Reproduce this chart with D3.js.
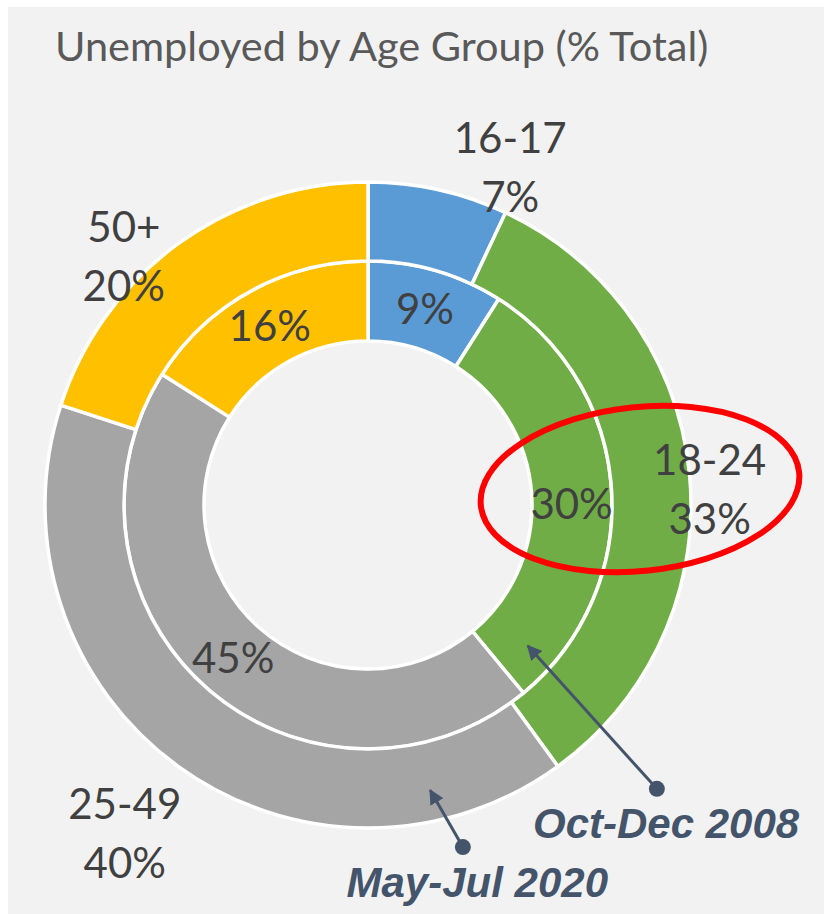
<!DOCTYPE html>
<html>
<head>
<meta charset="utf-8">
<script src="https://cdn.jsdelivr.net/npm/d3@7"></script>
<style>
  body { margin: 0; background: #fff; }
  svg { display: block; }
</style>
</head>
<body>
<svg id="chart"></svg>
<script>
// data
const ageGroups = ['16-17', '18-24', '25-49', '50+'];
const mayJul2020 = [7, 33, 40, 20];   // outer ring
const octDec2008 = [9, 30, 45, 16];   // inner ring
const colors = ['#5B9BD5', '#70AD47', '#A5A5A5', '#FFC000'];
const title = 'Unemployed by Age Group (% Total)';

const width = 824;
const height = 914;
const cx = 368;
const cy = 505;
const holeR = 164;
const midR = 244;
const outerR = 323;
const rad = Math.PI / 180;

// outer label placement: [angle deg, radius]
const outerLabelPolar = [[22.8, 367], [87.3, 342], [216.6, 408], [315.6, 349]];
// small vertical nudges for the inner labels
const innerLabelNudge = [0, 12, 0, 0];

const polar = (deg, r) => [cx + r * Math.sin(deg * rad), cy - r * Math.cos(deg * rad)];

const svg = d3.select('#chart')
  .attr('width', width)
  .attr('height', height);

svg.append('rect')
  .attr('x', 8)
  .attr('y', 7)
  .attr('width', width - 8)
  .attr('height', height - 7)
  .attr('fill', '#F2F2F2');

svg.append('text')
  .attr('x', 55)
  .attr('y', 61)
  .attr('font-family', 'Lato, sans-serif')
  .attr('font-size', 41.5)
  .attr('fill', '#595959')
  .text(title);

const pie = d3.pie().sort(null).value(d => d);
const g = svg.append('g').attr('transform', `translate(${cx}, ${cy})`);

const rings = [
  { values: octDec2008, inner: holeR, outer: midR },
  { values: mayJul2020, inner: midR, outer: outerR }
];

rings.forEach(ring => {
  const arc = d3.arc().innerRadius(ring.inner).outerRadius(ring.outer);
  g.append('g')
    .selectAll('path')
    .data(pie(ring.values))
    .enter()
    .append('path')
    .attr('d', arc)
    .attr('fill', (d, i) => colors[i])
    .attr('stroke', '#fff')
    .attr('stroke-width', 3.5);
});

// inner ring labels at centroid
const innerArc = d3.arc().innerRadius(holeR).outerRadius(midR);
g.append('g')
  .selectAll('text')
  .data(pie(octDec2008))
  .enter()
  .append('text')
  .attr('x', d => innerArc.centroid(d)[0])
  .attr('y', (d, i) => innerArc.centroid(d)[1] + 15 + innerLabelNudge[i])
  .attr('text-anchor', 'middle')
  .attr('font-family', 'Lato, sans-serif')
  .attr('font-size', 42)
  .attr('fill', '#404040')
  .text(d => `${d.data}%`);

// outer ring labels (category + value)
const outerLabels = svg.append('g')
  .selectAll('text')
  .data(mayJul2020)
  .enter()
  .append('text')
  .attr('text-anchor', 'middle')
  .attr('font-family', 'Lato, sans-serif')
  .attr('font-size', 42)
  .attr('fill', '#404040');

outerLabels.append('tspan')
  .attr('x', (d, i) => polar(...outerLabelPolar[i])[0])
  .attr('y', (d, i) => polar(...outerLabelPolar[i])[1] - 14)
  .text((d, i) => ageGroups[i]);

outerLabels.append('tspan')
  .attr('x', (d, i) => polar(...outerLabelPolar[i])[0])
  .attr('y', (d, i) => polar(...outerLabelPolar[i])[1] + 45)
  .text(d => `${d}%`);

// highlight ellipse around 18-24
svg.append('ellipse')
  .attr('cx', 640)
  .attr('cy', 489)
  .attr('rx', 160)
  .attr('ry', 82)
  .attr('transform', 'rotate(-6, 640, 489)')
  .attr('fill', 'none')
  .attr('stroke', '#FF0000')
  .attr('stroke-width', 6);

// annotations: from dot to arrow tip
const annColor = '#44546A';
svg.append('defs').append('marker')
  .attr('id', 'head')
  .attr('viewBox', '0 0 10 10')
  .attr('refX', 9)
  .attr('refY', 5)
  .attr('markerWidth', 5)
  .attr('markerHeight', 5)
  .attr('orient', 'auto')
  .append('path')
  .attr('d', 'M0,0 L10,5 L0,10 Z')
  .attr('fill', annColor);

const annotations = [
  { label: 'Oct-Dec 2008', tip: polar(131.4, 213), dot: polar(134.5, 405), tx: 533, ty: 838, anchor: 'start' },
  { label: 'May-Jul 2020', tip: polar(167.7, 292), dot: polar(164.5, 355), tx: 608, ty: 897, anchor: 'end' }
];

annotations.forEach(a => {
  svg.append('line')
    .attr('x1', a.dot[0])
    .attr('y1', a.dot[1])
    .attr('x2', a.tip[0])
    .attr('y2', a.tip[1])
    .attr('stroke', annColor)
    .attr('stroke-width', 3)
    .attr('marker-end', 'url(#head)');
  svg.append('circle')
    .attr('cx', a.dot[0])
    .attr('cy', a.dot[1])
    .attr('r', 8)
    .attr('fill', annColor);
  svg.append('text')
    .attr('x', a.tx)
    .attr('y', a.ty)
    .attr('text-anchor', a.anchor)
    .attr('font-family', '"Liberation Sans", Arial, sans-serif')
    .attr('font-weight', 'bold')
    .attr('font-style', 'italic')
    .attr('font-size', 42)
    .attr('fill', annColor)
    .text(a.label);
});
</script>
</body>
</html>
